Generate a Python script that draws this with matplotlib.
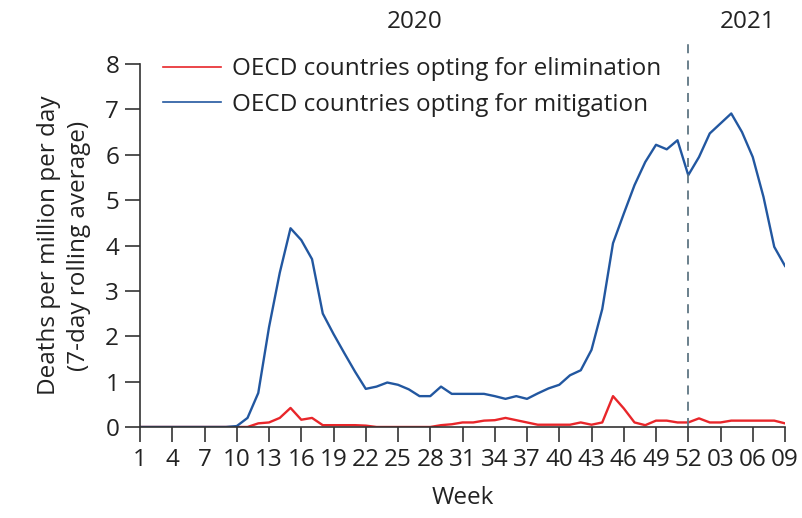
import matplotlib
matplotlib.use("Agg")
import matplotlib.pyplot as plt

plt.rcParams['font.family'] = ['Open Sans', 'DejaVu Sans']

weeks = list(range(1, 62))
tick_positions = list(range(1, 62, 3))
tick_labels = ['1', '4', '7', '10', '13', '16', '19', '22', '25', '28', '31', '34',
               '37', '40', '43', '46', '49', '52', '03', '06', '09']

mitigation = [0, 0, 0, 0, 0, 0, 0, 0, 0, 0.02, 0.2, 0.75, 2.2, 3.4, 4.38, 4.12, 3.7, 2.5,
              2.05, 1.63, 1.22, 0.84, 0.89, 0.98, 0.93, 0.83, 0.68, 0.68, 0.89, 0.73,
              0.73, 0.73, 0.73, 0.68, 0.62, 0.68, 0.62, 0.74, 0.85, 0.93, 1.14, 1.25,
              1.7, 2.6, 4.05, 4.7, 5.33, 5.84, 6.22, 6.12, 6.32, 5.55, 5.95, 6.47,
              6.69, 6.91, 6.5, 5.95, 5.07, 3.97, 3.55]
elimination = [0, 0, 0, 0, 0, 0, 0, 0, 0, 0, 0, 0.08, 0.1, 0.2, 0.42, 0.16, 0.2, 0.04,
               0.04, 0.04, 0.04, 0.03, 0, 0, 0, 0, 0, 0, 0.04, 0.06,
               0.1, 0.1, 0.14, 0.15, 0.2, 0.15, 0.1, 0.05, 0.05, 0.05, 0.05, 0.1,
               0.05, 0.1, 0.68, 0.41, 0.1, 0.04, 0.14, 0.14, 0.1, 0.1, 0.19, 0.1,
               0.1, 0.14, 0.14, 0.14, 0.14, 0.14, 0.08]

year_labels = ['2020', '2021']
year_positions = [26.5, 57.5]
year_break = 52

FS = 17.5

fig = plt.figure(figsize=(8.02, 5.18), dpi=100)
ax = fig.add_axes([0.1746, 0.1757, 0.8042, 0.7007])

ax.plot(weeks, elimination, color='#e8262a', lw=1.7, label='OECD countries opting for elimination')
ax.plot(weeks, mitigation, color='#2257a0', lw=1.7, label='OECD countries opting for mitigation')
ax.axvline(year_break, ymin=0, ymax=1.066, color='#5f7683', lw=1.3, ls=(0, (5, 4)), clip_on=False)

ax.set_xlim(1, 61)
ax.set_ylim(0, 8)
ax.set_xticks(tick_positions)
ax.set_xticklabels(tick_labels)
ax.set_yticks(range(0, 9))
for s in ['top', 'right']:
    ax.spines[s].set_visible(False)
for s in ['left', 'bottom']:
    ax.spines[s].set_color('#333333')
    ax.spines[s].set_linewidth(1.2)
ax.tick_params(axis='both', colors='#333333', labelcolor='#222222', labelsize=FS,
               length=11, width=1.2, direction='out')
ax.tick_params(axis='x', pad=4)
ax.tick_params(axis='y', pad=4)

ax.set_xlabel('Week', fontsize=FS, color='#222222', labelpad=10)
ax.set_ylabel('Deaths per million per day\n(7-day rolling average)', fontsize=FS,
              color='#222222', labelpad=10, linespacing=1.35)

for lab, pos in zip(year_labels, year_positions):
    ax.text(pos, 1.115, lab, transform=ax.get_xaxis_transform(), ha='center', va='center',
            fontsize=FS, color='#222222')

leg = ax.legend(loc='upper left', bbox_to_anchor=(0.02, 1.045), frameon=False, fontsize=FS,
                handlelength=2.4, handletextpad=0.45, labelspacing=0.47, borderaxespad=0)
for t in leg.get_texts():
    t.set_color('#222222')
for h in leg.legend_handles:
    h.set_linewidth(1.2)

fig.savefig('out.png', dpi=100)
